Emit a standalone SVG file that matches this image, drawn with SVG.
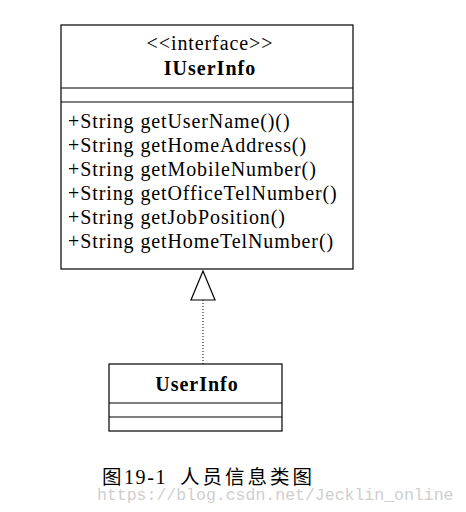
<svg xmlns="http://www.w3.org/2000/svg" width="466" height="512" viewBox="0 0 466 512">
<style>
.box{fill:#fff;stroke:#000;stroke-width:1.2}
.ln{stroke:#000;stroke-width:1.2}
.t{font-family:"Liberation Serif","Times New Roman",serif;font-size:20px;fill:#000;letter-spacing:0.9px}
.b{font-weight:bold;letter-spacing:1px}
.cap{font-family:"Noto Sans CJK SC",sans-serif;font-size:19.5px;fill:#000}
.num{font-family:"Liberation Serif",serif;font-size:20px;letter-spacing:1.6px}
.wm{font-family:"Liberation Mono",monospace;font-size:16.5px;fill:#cfcfcf}
</style>
<rect width="466" height="512" fill="#fff"/>
<g id="IUserInfo">
<rect class="box" x="61" y="25" width="292" height="244"/>
<line class="ln" x1="61" y1="88" x2="353" y2="88"/>
<line class="ln" x1="61" y1="102" x2="353" y2="102"/>
<text class="t" x="210" y="50" text-anchor="middle">&lt;&lt;interface&gt;&gt;</text>
<text class="t b" x="210" y="75" text-anchor="middle">IUserInfo</text>
<text class="t" x="68" y="128">+String getUserName()()</text>
<text class="t" x="68" y="152">+String getHomeAddress()</text>
<text class="t" x="68" y="176">+String getMobileNumber()</text>
<text class="t" x="68" y="200">+String getOfficeTelNumber()</text>
<text class="t" x="68" y="224">+String getJobPosition()</text>
<text class="t" x="68" y="248">+String getHomeTelNumber()</text>
</g>
<g id="UserInfo">
<rect class="box" x="109" y="364" width="173" height="67"/>
<line class="ln" x1="109" y1="403" x2="282" y2="403"/>
<line class="ln" x1="109" y1="417" x2="282" y2="417"/>
<text class="t b" x="197" y="391" text-anchor="middle">UserInfo</text>
</g>
<g id="connectors">
<line x1="203" y1="300" x2="203" y2="364" stroke="#000" stroke-width="1" stroke-dasharray="1,2"/>
<polygon points="203,271 191,300 215,300" fill="#fff" stroke="#000" stroke-width="1.2"/>
</g>
<text class="cap" y="484"><tspan x="102">图</tspan><tspan class="num" x="124">19-1</tspan><tspan x="180 202.5 225 247.5 270 292.5">人员信息类图</tspan></text>
<text class="wm" x="97" y="500">https://blog.csdn.net/Jecklin_online</text>
</svg>
